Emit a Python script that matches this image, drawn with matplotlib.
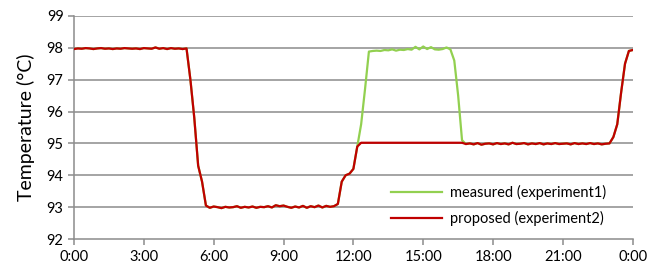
import numpy as np
import matplotlib
matplotlib.use("Agg")
import matplotlib.pyplot as plt

# sample times: every 10 minutes from 0:00 to 24:00 (hours)
times_h = np.arange(0, 145) / 6.0

proposed = [
    # 0:00 - 4:50
    97.96, 97.98, 97.97, 97.99, 97.98, 97.96, 97.98, 97.99, 97.97, 97.98,
    97.96, 97.98, 97.97, 97.99, 97.98, 97.97, 97.98, 97.96, 97.99, 97.98,
    97.97, 98.01, 97.97, 97.99, 97.96, 97.99, 97.97, 97.98, 97.96, 97.98,
    # 5:00 - 5:50 drop
    97.0, 95.8, 94.3, 93.8, 93.05, 92.98,
    # 6:00 - 11:10
    93.02, 93.00, 92.97, 93.01, 92.99, 93.00, 93.03, 92.98, 93.01, 92.99,
    93.02, 92.98, 93.01, 93.00, 93.03, 92.99, 93.06, 93.03, 93.05, 93.01,
    92.98, 93.02, 92.99, 93.04, 92.98, 93.03, 93.00, 93.05, 92.99, 93.04,
    93.01, 93.03,
    # 11:20 - 12:20 rise
    93.1, 93.8, 94.0, 94.05, 94.2, 94.9, 95.02,
    # 12:30 - 16:40 flat
    95.02, 95.02, 95.02, 95.02, 95.02, 95.02, 95.02, 95.02, 95.02, 95.02,
    95.02, 95.02, 95.02, 95.02, 95.02, 95.02, 95.02, 95.02, 95.02, 95.02,
    95.02, 95.02, 95.02, 95.02, 95.02, 95.02,
    # 16:50 - 23:00
    94.98, 95.00, 94.97, 95.01, 94.96, 94.99, 95.00, 94.97, 95.01, 94.98,
    95.00, 94.97, 95.02, 94.98, 94.99, 95.01, 94.97, 95.00, 94.98, 95.01,
    94.97, 95.00, 94.98, 95.01, 94.98, 94.99, 95.00, 94.97, 95.01, 94.98,
    95.00, 94.98, 95.01, 94.98, 95.00, 94.97, 94.99, 95.00,
    # 23:10 - 24:00 rise
    95.2, 95.6, 96.6, 97.5, 97.9, 97.93,
]

measured = [
    97.96, 97.98, 97.97, 97.99, 97.98, 97.96, 97.98, 97.99, 97.97, 97.98,
    97.96, 97.98, 97.97, 97.99, 97.98, 97.97, 97.98, 97.96, 97.99, 97.98,
    97.97, 98.01, 97.97, 97.99, 97.96, 97.99, 97.97, 97.98, 97.96, 97.98,
    97.0, 95.8, 94.3, 93.8, 93.05, 92.98,
    93.02, 93.00, 92.97, 93.01, 92.99, 93.00, 93.03, 92.98, 93.01, 92.99,
    93.02, 92.98, 93.01, 93.00, 93.03, 92.99, 93.06, 93.03, 93.05, 93.01,
    92.98, 93.02, 92.99, 93.04, 92.98, 93.03, 93.00, 93.05, 92.99, 93.04,
    93.01, 93.03,
    93.1, 93.8, 94.0, 94.05, 94.2, 94.9,
    # 12:20 - 12:40 rise to 98
    95.6, 96.7, 97.88,
    # 12:50 - 16:10 plateau
    97.90, 97.91, 97.90, 97.93, 97.92, 97.95, 97.91, 97.94, 97.93, 97.96,
    97.94, 98.03, 97.95, 98.04, 97.96, 98.02, 97.95, 97.94, 97.96, 98.01,
    97.95,
    # 16:20 - 16:50 drop
    97.6, 96.5, 95.1, 94.98,
    95.00, 94.97, 95.01, 94.96, 94.99, 95.00, 94.97, 95.01, 94.98,
    95.00, 94.97, 95.02, 94.98, 94.99, 95.01, 94.97, 95.00, 94.98, 95.01,
    94.97, 95.00, 94.98, 95.01, 94.98, 94.99, 95.00, 94.97, 95.01, 94.98,
    95.00, 94.98, 95.01, 94.98, 95.00, 94.97, 94.99, 95.00,
    95.2, 95.6, 96.6, 97.5, 97.9, 97.93,
]

x_ticks = [0, 3, 6, 9, 12, 15, 18, 21, 24]
x_labels = ["0:00", "3:00", "6:00", "9:00", "12:00", "15:00", "18:00", "21:00", "0:00"]
y_ticks = [92, 93, 94, 95, 96, 97, 98, 99]

plt.rcParams['font.family'] = ['Lato', 'DejaVu Sans']

fig = plt.figure(figsize=(6.49, 2.65), dpi=100)
ax = fig.add_axes([0.114, 0.098, 0.861, 0.842])

grid_c = "#8c8c8c"
for yv in y_ticks[1:]:
    ax.axhline(yv, color=grid_c, lw=1.1, zorder=1)

ax.plot(times_h, measured, color="#92d050", lw=1.6, label="measured (experiment1)", zorder=2)
ax.plot(times_h, proposed, color="#c00000", lw=1.6, label="proposed (experiment2)", zorder=3)

ax.set_xlim(0, 24)
ax.set_ylim(92, 99)
ax.set_xticks(x_ticks)
ax.set_xticklabels(x_labels)
ax.set_yticks(y_ticks)
for s in ["top", "right"]:
    ax.spines[s].set_visible(False)
for s in ["left", "bottom"]:
    ax.spines[s].set_color(grid_c)
    ax.spines[s].set_linewidth(1.1)
ax.tick_params(axis="both", colors=grid_c, labelcolor="black", labelsize=10.5,
               direction="out", length=4, width=1.1)
ax.tick_params(axis="x", pad=4)
ax.set_ylabel("Temperature (°C)", fontsize=14, labelpad=8)

ax.legend(loc="lower right", bbox_to_anchor=(0.975, 0.0), frameon=False,
          fontsize=10.5, handlelength=3.5, handletextpad=0.5, labelspacing=0.75)

fig.savefig("out.png", dpi=100)
